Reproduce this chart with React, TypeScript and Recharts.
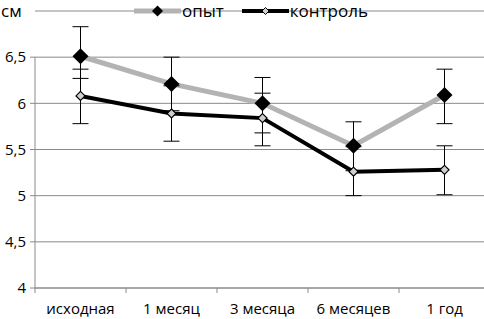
import { LineChart, Line, XAxis, YAxis, CartesianGrid, ErrorBar, ReferenceLine } from 'recharts';

const categories = ['исходная', '1 месяц', '3 месяца', '6 месяцев', '1 год'];
const opytValues = [6.51, 6.21, 6.0, 5.54, 6.09];
const opytErrLow = [0.24, 0.29, 0.32, 0.27, 0.31];
const opytErrHigh = [0.32, 0.29, 0.28, 0.26, 0.28];
const controlValues = [6.08, 5.89, 5.84, 5.26, 5.28];
const controlErrLow = [0.3, 0.3, 0.3, 0.26, 0.27];
const controlErrHigh = [0.29, 0.3, 0.27, 0.27, 0.26];
const yTicks = [4, 4.5, 5, 5.5, 6, 6.5];
const yMax = 7;
const bandTicks = [0, 1, 2, 3, 4, 5];
const unitLabel = 'см';
const seriesNames = ['опыт', 'контроль'];

const data = categories.map((name, i) => ({
  name,
  pos: i + 0.5,
  opyt: opytValues[i],
  opytErr: [opytErrLow[i], opytErrHigh[i]],
  control: controlValues[i],
  controlErr: [controlErrLow[i], controlErrHigh[i]],
}));

const font = "'Open Sans', sans-serif";
const axisColor = '#8a8a8a';

const BigDiamond = (props: any) => {
  const { cx, cy, index } = props;
  const r = 8;
  return (
    <polygon
      key={`opyt-${index}`}
      points={`${cx},${cy - r} ${cx + r},${cy} ${cx},${cy + r} ${cx - r},${cy}`}
      fill="#000"
    />
  );
};

const SmallDiamond = (props: any) => {
  const { cx, cy, index } = props;
  const r = 4.5;
  return (
    <polygon
      key={`control-${index}`}
      points={`${cx},${cy - r} ${cx + r},${cy} ${cx},${cy + r} ${cx - r},${cy}`}
      fill="#cfcfcf"
      stroke="#000"
      strokeWidth={1.2}
    />
  );
};

function LegendItem({ name, big }: { name: string; big: boolean }) {
  const r = big ? 5.5 : 3.5;
  return (
    <div style={{ display: 'flex', alignItems: 'center' }}>
      <svg width={47} height={20}>
        <line x1={0} y1={10} x2={47} y2={10} stroke={big ? '#b3b3b3' : '#000'} strokeWidth={big ? 5 : 4} />
        <polygon
          points={`${23.5},${10 - r} ${23.5 + r},10 ${23.5},${10 + r} ${23.5 - r},10`}
          fill={big ? '#000' : '#cfcfcf'}
          stroke="#000"
          strokeWidth={big ? 0 : 1}
        />
      </svg>
      <span style={{ fontSize: 17, marginLeft: 1, lineHeight: '22px' }}>{name}</span>
    </div>
  );
}

export default function App() {
  return (
    <div
      style={{
        position: 'absolute',
        left: 0,
        top: 0,
        width: 484,
        height: 319,
        overflow: 'hidden',
        fontFamily: font,
        color: '#000',
        background: '#fff',
      }}
    >
      <LineChart width={490} height={319} data={data} margin={{ top: 11, right: 0, left: 0, bottom: 0 }}>
        <CartesianGrid vertical={false} stroke={axisColor} />
        <XAxis
          dataKey="pos"
          type="number"
          domain={[bandTicks[0], bandTicks[bandTicks.length - 1]]}
          ticks={bandTicks}
          allowDataOverflow
          height={7}
          tickSize={5}
          stroke={axisColor}
          tickFormatter={() => ''}
        />
        <XAxis
          xAxisId="labels"
          dataKey="name"
          scale="band"
          height={24}
          axisLine={false}
          tickLine={false}
          tickSize={0}
          tickMargin={8}
          interval={0}
          tick={{ fill: '#000', fontSize: 15, fontFamily: font }}
        />
        <YAxis
          domain={[yTicks[0], yMax]}
          ticks={yTicks}
          width={35}
          axisLine={false}
          tickSize={5}
          tickMargin={4}
          stroke={axisColor}
          tickFormatter={(v: number) => String(v).replace('.', ',')}
          tick={{ fill: '#000', fontSize: 15, fontFamily: font }}
        />
        <ReferenceLine
          segment={[
            { x: bandTicks[0], y: yTicks[0] },
            { x: bandTicks[0], y: yTicks[yTicks.length - 1] },
          ]}
          stroke={axisColor}
        />
        <Line
          dataKey="opyt"
          stroke="#b3b3b3"
          strokeWidth={5}
          dot={BigDiamond}
          isAnimationActive={false}
        >
          <ErrorBar dataKey="opytErr" width={8} stroke="#000" strokeWidth={1} direction="y" />
        </Line>
        <Line
          dataKey="control"
          stroke="#000"
          strokeWidth={4}
          dot={SmallDiamond}
          isAnimationActive={false}
        >
          <ErrorBar dataKey="controlErr" width={8} stroke="#000" strokeWidth={1} direction="y" />
        </Line>
      </LineChart>
      <div style={{ position: 'absolute', left: 1, top: 0, fontSize: 17, lineHeight: '22px' }}>{unitLabel}</div>
      <div style={{ position: 'absolute', left: 134, top: 0, display: 'flex', gap: 18 }}>
        <LegendItem name={seriesNames[0]} big />
        <LegendItem name={seriesNames[1]} big={false} />
      </div>
    </div>
  );
}
